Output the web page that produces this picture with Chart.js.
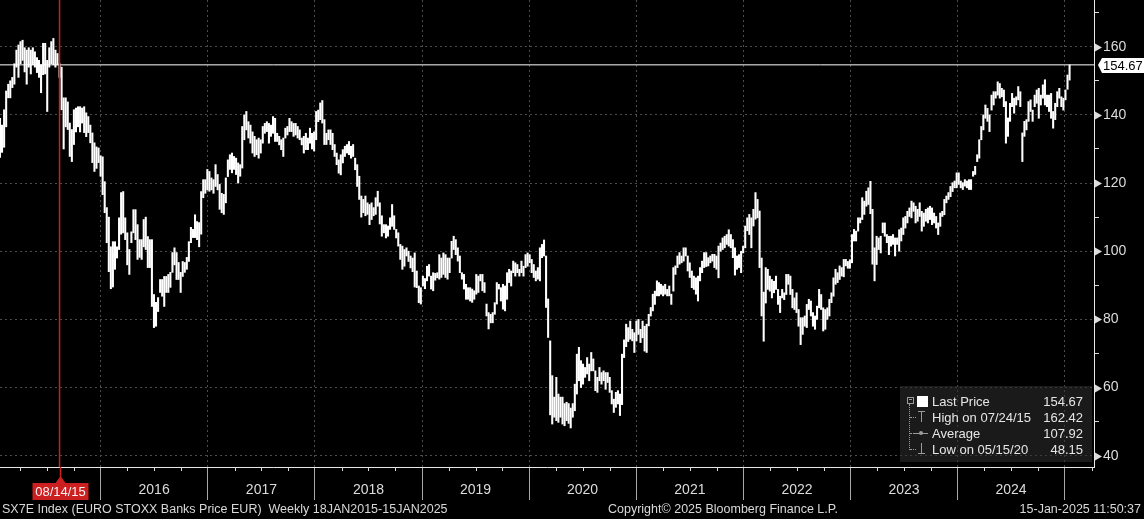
<!DOCTYPE html>
<html>
<head>
<meta charset="utf-8">
<script src="https://cdn.jsdelivr.net/npm/chart.js@4.4.1/dist/chart.umd.min.js"></script>
<style>
  html, body { margin: 0; padding: 0; background: #000; }
  #wrap { position: relative; width: 1144px; height: 519px; overflow: hidden; background: #000; }
  #wrap canvas { position: absolute; left: 0; top: 0; }
  .foot { position: absolute; top: 502px; font: 12.5px "Liberation Sans", Arial, sans-serif; color: #d8d8d8; white-space: pre; }
  #legend { position: absolute; left: 900px; top: 386px; width: 192px; height: 76px; background: rgba(48, 48, 48, 0.55);
            font: 13px "Liberation Sans", Arial, sans-serif; color: #e6e6e6; }
  #legend .row { position: absolute; left: 32px; right: 9px; height: 16px; line-height: 16px; }
  #legend .row span { position: absolute; top: 0; }
  #legend .val { right: 0; }
  #legend .ico { position: absolute; }
</style>
</head>
<body>
<div id="wrap">
  <canvas id="chart" width="1144" height="519"></canvas>
  <div id="legend"></div>
  <div class="foot" id="foot-left" style="left:2px"></div>
  <div class="foot" id="foot-mid" style="left:608px"></div>
  <div class="foot" id="foot-right" style="right:3px"></div>
</div>
<script>
// weekly bars as [low, high], one array per year band on the axis
const bars2015 = [[127.5,139],[129,137],[130.5,141.5],[136.5,147],[145,149],[145,150],[148,151],[149,155],[154,159],[151,160.5],
  [155,161.5],[156,161.9],[152.6,159.7],[149,159],[154,159.7],[152,159],[154.7,159.7],[154,158.5],[152.4,156.8],[151,156],
  [146.5,154.7],[151.8,161],[152,161],[141,156],[154,159.7],[155,161.5],[154.7,162.42],[154,159],[154.7,158],[151,155],
  [141.5,154],[130,145],[136.5,145],[135.7,143.8],[127.8,137.6],[126.3,135.7],[131.3,141.5],[135,142],[136.5,142.4],[135,142.4],
  [137.6,142],[134.8,142.4],[133.6,140.6],[134.8,139.5],[131.8,137],[126,134.7],[123.4,131.8],[124.3,130.6]];
const bars2016 = [[126,130.3],[122,128],[116.6,127.7],[111.3,120.4],[102.5,112.8],[94,110],[89,101.3],[89.5,102.8],[94.7,102.8],[98,101.3],
  [100.5,109.8],[105,117.2],[105.4,117.5],[103.4,109.8],[96,105.4],[93.2,100.5],[102.5,105.7],[105.4,112.2],[103.4,112.2],[97.6,107.8],
  [98.2,103.4],[97.6,103.4],[101.3,109.3],[100.5,110],[95.2,104.3],[95.2,103.4],[83.8,103.4],[77.6,87.3],[78,85],[82.3,86.4],
  [87.9,91.7],[86.8,91.7],[83.8,92.6],[87.9,92.6],[87.9,93.2],[89.4,93.8],[93.8,99.6],[96,101],[91.7,99.6],[91.7,96.7],
  [87.9,93.8],[92.6,97],[93.8,96.7],[94.7,98.2],[97,102.8],[102.5,107],[104,106.4],[104,110.7],[103.4,108.7],[101.3,108.4],
  [105,117.5],[115.7,121]];
const bars2017 = [[117,121],[118,124],[117.6,123.4],[118,121.5],[117,121],[119,125.4],[118,122.5],[112.3,119.6],[111.3,117],[110.8,116.7],
  [114.2,121.5],[121.9,126.8],[124,128.3],[123,128.8],[124,127.8],[122.5,127.3],[120,125.9],[122,125.4],[124.4,136.6],[132.7,140],
  [135.6,141],[133.2,138],[131.7,137],[128.8,135],[127.8,133.7],[128.3,132.7],[127.3,133.2],[128.8,132.7],[131.7,136.6],[134.6,137.5],
  [135.1,138],[131.7,137.5],[133.7,137],[134.6,139.5],[132.2,139],[132.2,134.6],[131.2,133.7],[129.8,132.7],[127.8,133.2],[133.2,136.1],
  [134.1,136.6],[135.1,139],[135.1,138],[133.7,137.5],[134.1,137.5],[133.2,136.6],[132.7,135.6],[131.2,133.2],[128.8,133.7],[129.8,134.6],
  [129.8,133.2],[131.7,136.1]];
const bars2018 = [[130,134.6],[129.4,135],[132.7,141],[138,141.4],[138.6,143.5],[137.6,144.2],[131.3,138.6],[131.3,134.6],[132.7,135.6],[131.3,135.6],
  [129.8,134.6],[127.8,131.3],[125.4,128.8],[122.9,126.8],[122.4,128.3],[125.9,129.8],[127.8,130.8],[128.8,131.3],[128.3,132.2],[127.3,130.8],
  [127.8,131.3],[123.9,127.3],[119,125.4],[115.2,122],[110,116.2],[111.3,115.2],[110.4,116.2],[110.8,114.2],[107.8,113.7],[109.3,114.2],
  [110.4,112.8],[110.8,115.7],[113.2,117.6],[108,114.2],[104.4,110.4],[105.4,107.8],[103.9,107.8],[104.4,107.4],[106.4,109.8],[107.3,113.7],
  [106.4,110.4],[103.9,106.4],[101.5,105.4],[97.6,102],[94.7,101.5],[95.6,100.5],[98.6,101],[97,100],[95.1,98.6],[94,98],
  [89.5,99.5],[89.3,94.2],[84.9,89.8]];
const bars2019 = [[84.5,89.3],[89.8,92.7],[89,92],[91.3,95.6],[92.7,96.1],[88.9,92.7],[88.4,93.7],[91.5,93.5],[92.2,93.7],[91.8,99],
  [92.3,98],[93.2,99.5],[92.3,99],[91.8,98],[93.7,98],[98,102.9],[100.5,104.4],[99,103.4],[97.1,101],[93.7,98.6],
  [91.8,93.7],[88.9,93.2],[85.9,90.3],[85.9,89.3],[85.4,89.3],[85,88.9],[85.9,88.4],[87.4,93.2],[87.9,92.7],[91.3,93.2],
  [88.4,93.2],[87.9,90.8],[81,84.5],[77.2,82],[79,81.5],[79,82],[81.5,84.9],[84.5,90.8],[88.9,90.3],[85.4,89.3],
  [83,90.3],[82.5,89.8],[85.9,93.7],[90.8,94.7],[89.8,94.2],[93.7,97.1],[92.7,96.6],[93.7,96.1],[92.7,94.7],[93.7,97.1],
  [92.7,95.6],[95.2,99]];
const bars2020 = [[95.6,99.5],[96.6,99],[93.7,97.6],[92.3,96.1],[91.3,94.2],[91.8,95.2],[91.3,101],[98.1,102],[98.6,103.3],[83.5,98.6],
  [74.7,86],[52,73.7],[49.3,63.5],[51.3,57.2],[50.3,63],[49.8,58.1],[51.3,57.2],[49.3,57.2],[48.8,55.3],[50.3,55.7],
  [49.5,55.3],[48.15,54],[51.3,55.3],[53.2,61],[58.1,69.8],[62,71.8],[60,67.9],[61,66.9],[63,65.9],[64,68.8],
  [62,66.9],[64.9,70.3],[64.9,68.4],[59.1,64.9],[58.6,63],[62,65.9],[61,64.4],[62,64.9],[59.5,64.4],[61.5,64.4],
  [58.6,63],[55.2,59.1],[52.7,56.6],[54.2,58.6],[55.2,59.1],[51.8,58.1],[55,69.8],[68.8,74],[72,78.6],[73.5,77.6],
  [74.2,79.5],[73.7,77.1]];
const bars2021 = [[70.3,76.1],[73.7,79.5],[75.6,80],[73.2,77.1],[74.6,79.5],[70.7,78],[70.3,78.6],[78.1,81.5],[81,83.5],[82.5,87.4],
  [84.4,88.3],[86.9,91.3],[86.9,90.8],[87.4,90.3],[86.9,89.8],[87.4,90.3],[86.9,88.8],[86.9,89.8],[84.4,87.4],[88.3,95.2],
  [93.2,95.7],[95.2,98.6],[96.2,99.6],[96.6,98.6],[97.1,101],[98.6,101],[94.2,98.6],[92.3,96.6],[89.3,94.2],[88.8,92.7],
  [87.4,92.2],[85.4,92.7],[91.3,95.2],[93.7,97.1],[95.2,99.6],[95.5,99.6],[95.7,98.1],[96.6,98.6],[97.1,99.1],[95.2,99.1],
  [94.7,98.6],[92.2,101.5],[100,102.4],[100.5,103.9],[101,104.4],[102,104.9],[101.5,106.3],[101,104.9],[98.1,103.4],[93,101],
  [94.7,98.6],[95.2,99],[93.7,100]];
const bars2022 = [[99.5,101.5],[101,107.4],[106,109.8],[104.9,110.8],[101,109.8],[107.4,112.3],[109.4,117.2],[109.8,115.2],[95.2,111.8],[81,98],
  [73.6,88],[84.8,95.2],[88.8,94.7],[88.3,92.7],[86.3,91.7],[87.8,91.2],[88.8,92.7],[84.4,88.8],[82,86.8],[86.3,88.8],
  [85.8,87.8],[87.3,93.2],[90.3,93.2],[87.3,92.7],[83.4,88.8],[82.9,86.3],[82,87.8],[78,82.9],[72.6,80.5],[75.6,80.5],
  [78,81],[77.6,84.4],[82.9,85.9],[81,85.4],[78,82],[77.1,81],[80,83.9],[83.4,88.8],[82.9,87.3],[76.6,83.4],
  [77.1,82.9],[80,83.4],[81,85.9],[84.9,87.8],[86.8,92.2],[90.3,94.7],[90.8,93.7],[91.7,95.7],[92.7,95.2],[92.5,97.6],
  [95.7,97.6],[95,97]];
const bars2023 = [[95,97.5],[96.6,104.9],[103,106.4],[103,105.9],[105.9,109.8],[108.3,109.8],[109.3,115.7],[110.8,114.7],[113.2,117.6],[113.7,118.6],
  [111,120.5],[96.2,112.3],[91.3,101],[96.1,104.4],[100.5,103.9],[99.5,104.4],[105.4,108.3],[104.4,108.3],[102.5,104.9],[99,104.4],
  [101.5,104.4],[102,104.9],[98.6,103.9],[102,103.9],[100,106.3],[103,106.8],[104.9,109.8],[106.8,110.2],[108.3,111.7],[110.2,112.7],
  [109.8,114.7],[111.7,114.2],[108.3,113.2],[108.8,112.3],[110.2,114.2],[105.9,111.7],[107.3,111.2],[108.8,112.3],[108.3,112.7],[109.3,113.2],
  [107.8,112.7],[108.3,111.2],[106.8,110.2],[104.9,108.3],[107.3,111.2],[110.2,111.7],[110.7,115.2],[114.2,116.2],[115.2,117.2],[116,119],
  [117.5,120.1],[118.6,120.6]];
const bars2024 = [[118.6,123],[119.6,123],[118.6,120.6],[118.1,120.1],[119.1,121],[118.6,120.6],[118.1,121],[118.1,121],[122,123.4],[122.5,124.9],
  [126.3,128.3],[127.3,132.7],[132.7,136.6],[135.6,140],[139,142.9],[138.1,141.9],[135.1,140],[141.4,145.8],[142.9,146.8],[144.9,146.8],
  [145.8,149.7],[144.9,149.2],[145.3,147.8],[142.4,147.3],[131.7,143.9],[133.7,139.1],[138.1,143.4],[142.4,146.3],[140.5,144.9],[142.9,145.3],
  [144.4,148.3],[142.4,146.8],[126.3,134.7],[133.7,138.1],[135.6,138.6],[138.1,143.9],[141,144.4],[138.1,141.4],[142.4,145.8],[143.4,147.3],
  [139,147.8],[142.9,145.8],[144.9,148.8],[142.9,150.3],[142.4,145.8],[141,145.8],[139,146.3],[136.1,141],[138.6,143.4],[142.4,146.8],
  [144.9,147.8],[142.4,145.3]];
const bars2025 = [[141.4,144.9],[144.4,147.3],[147.5,151.7],[150.2,154.67]];

// axis and summary values
const yearLabels = ['2016', '2017', '2018', '2019', '2020', '2021', '2022', '2023', '2024', ''];
const lastPrice = 154.67;
const highValue = 162.42, highDate = '07/24/15';
const averageValue = 107.92;
const lowValue = 48.15, lowDate = '05/15/20';
const cursorDate = '08/14/15';
const cursorWeek = 29;

const seriesName = 'SX7E Index (EURO STOXX Banks Price EUR)  Weekly 18JAN2015-15JAN2025';
const copyrightText = 'Copyright\u00a9 2025 Bloomberg Finance L.P.';
const stampText = '15-Jan-2025 11:50:37';

const FONT = '"Liberation Sans", Arial, sans-serif';
const GRID = '#4c4c4c';
const TEXT = '#dcdcdc';
const RED = '#cc1f1f';

// week index 0 is the bar of 23 Jan 2015
const firstBar = Date.UTC(2015, 0, 23);
function weekOf(y, m, d) {
  return (Date.UTC(y, m, d) - firstBar) / (7 * 864e5);
}
const yearBounds = [2016, 2017, 2018, 2019, 2020, 2021, 2022, 2023, 2024, 2025].map(y => weekOf(y, 0, 1));
const quarterBounds = [2015, 2026].map(y => weekOf(y, 0, 1));

const weekly = [].concat(bars2015, bars2016, bars2017, bars2018, bars2019, bars2020,
  bars2021, bars2022, bars2023, bars2024, bars2025);
const barPoints = weekly.map((r, i) => ({ x: i, y: r }));

const X_MIN = 0, X_MAX = 532.9;
const Y_MIN = 36.7, Y_MAX = 173.7;

// extra drawing: tick arrows, quarter ticks, price tag, date cursor label
const decorations = {
  id: 'decorations',
  afterDraw(chart) {
    const ctx = chart.ctx;
    const xs = chart.scales.x, ys = chart.scales.y;
    const area = chart.chartArea;
    ctx.save();

    // arrows on the labelled price ticks
    ctx.fillStyle = TEXT;
    ys.ticks.forEach(t => {
      if (t.value % 20 !== 0) return;
      const py = Math.round(ys.getPixelForValue(t.value)) + 0.5;
      ctx.beginPath();
      ctx.moveTo(area.right + 1, py - 4);
      ctx.lineTo(area.right + 8, py);
      ctx.lineTo(area.right + 1, py + 4);
      ctx.closePath();
      ctx.fill();
    });

    // quarter ticks under the plot
    const bounds = [quarterBounds[0]].concat(yearBounds, [quarterBounds[1]]);
    ctx.strokeStyle = TEXT;
    ctx.lineWidth = 1;
    for (let b = 0; b < bounds.length - 1; b++) {
      for (let q = 1; q < 4; q++) {
        const v = bounds[b] + (bounds[b + 1] - bounds[b]) * q / 4;
        const px = Math.round(xs.getPixelForValue(v)) + 0.5;
        if (px < area.left || px > area.right) continue;
        ctx.beginPath();
        ctx.moveTo(px, area.bottom);
        ctx.lineTo(px, area.bottom + 4);
        ctx.stroke();
      }
    }

    // last price tag
    const ly = Math.round(ys.getPixelForValue(lastPrice));
    ctx.fillStyle = '#fff';
    ctx.beginPath();
    ctx.moveTo(area.right + 4, ly);
    ctx.lineTo(area.right + 8, ly - 7);
    ctx.lineTo(chart.width, ly - 7);
    ctx.lineTo(chart.width, ly + 8);
    ctx.lineTo(area.right + 8, ly + 8);
    ctx.closePath();
    ctx.fill();
    ctx.fillStyle = '#000';
    ctx.font = '13px ' + FONT;
    ctx.textAlign = 'left';
    ctx.textBaseline = 'middle';
    ctx.fillText(lastPrice.toFixed(2), area.right + 9, ly + 1);

    // date cursor below the axis
    const cx = Math.round(xs.getPixelForValue(cursorWeek)) + 0.5;
    ctx.strokeStyle = RED;
    ctx.lineWidth = 1.5;
    ctx.beginPath();
    ctx.moveTo(cx, area.bottom);
    ctx.lineTo(cx, area.bottom + 10);
    ctx.stroke();
    ctx.fillStyle = RED;
    ctx.beginPath();
    ctx.moveTo(cx, area.bottom + 9);
    ctx.lineTo(cx - 5, area.bottom + 16);
    ctx.lineTo(cx + 5, area.bottom + 16);
    ctx.closePath();
    ctx.fill();
    ctx.fillRect(cx - 28, area.bottom + 16, 56, 17);
    ctx.fillStyle = '#f2f2f2';
    ctx.font = '13px ' + FONT;
    ctx.textAlign = 'center';
    ctx.fillText(cursorDate, cx, area.bottom + 25);

    ctx.restore();
  }
};

const chart = new Chart(document.getElementById('chart'), {
  type: 'bar',
  data: {
    datasets: [
      {
        type: 'line',
        data: [{ x: cursorWeek, y: Y_MIN }, { x: cursorWeek, y: Y_MAX }],
        borderColor: RED,
        borderWidth: 1.5,
        pointRadius: 0,
        order: 1
      },
      {
        type: 'line',
        data: [{ x: X_MIN, y: lastPrice }, { x: X_MAX, y: lastPrice }],
        borderColor: '#ffffff',
        borderWidth: 1,
        pointRadius: 0,
        order: 2
      },
      {
        type: 'bar',
        data: barPoints,
        backgroundColor: '#ffffff',
        borderWidth: 0,
        barThickness: 1.4,
        order: 3
      }
    ]
  },
  options: {
    responsive: false,
    animation: false,
    events: [],
    layout: { padding: { left: 0, right: 0, top: 0, bottom: 19 } },
    plugins: { legend: { display: false }, tooltip: { enabled: false } },
    scales: {
      x: {
        type: 'linear',
        min: X_MIN,
        max: X_MAX,
        offset: false,
        grid: {
          offset: false,
          color: GRID,
          tickColor: '#a8a8a8',
          tickLength: 33
        },
        border: { display: true, color: '#e8e8e8', dash: [2, 3] },
        afterBuildTicks: s => { s.ticks = yearBounds.map(v => ({ value: v })); },
        afterFit: s => { s.height = 33; s.paddingLeft = 0; s.paddingRight = 0; },
        ticks: {
          autoSkip: false,
          maxRotation: 0,
          padding: -18,
          labelOffset: 53.5,
          color: TEXT,
          font: { family: FONT, size: 14 },
          callback: (v, i) => yearLabels[i]
        }
      },
      y: {
        position: 'right',
        min: Y_MIN,
        max: Y_MAX,
        grid: {
          color: c => (c.tick && c.tick.value % 20 === 0) ? GRID : 'transparent',
          tickColor: TEXT,
          tickLength: 5
        },
        border: { display: true, color: '#e8e8e8', dash: [2, 3] },
        afterFit: s => { s.width = 50; s.paddingTop = 0; s.paddingBottom = 0; },
        ticks: {
          stepSize: 10,
          includeBounds: false,
          padding: 4,
          color: TEXT,
          font: { family: FONT, size: 14 },
          callback: v => (v % 20 === 0 ? String(v) : '')
        }
      }
    }
  },
  plugins: [decorations]
});

// legend box with its small tree icons
const legend = document.getElementById('legend');
const rows = [
  ['Last Price', lastPrice.toFixed(2)],
  ['High on ' + highDate, highValue.toFixed(2)],
  ['Average', averageValue.toFixed(2)],
  ['Low on ' + lowDate, lowValue.toFixed(2)]
];
rows.forEach((r, k) => {
  const row = document.createElement('div');
  row.className = 'row';
  row.style.top = (8 + k * 16) + 'px';
  row.innerHTML = '<span class="lab" style="left:0">' + r[0] + '</span><span class="val">' + r[1] + '</span>';
  legend.appendChild(row);
});
function icon(css) {
  const d = document.createElement('div');
  d.className = 'ico';
  d.style.cssText += css;
  legend.appendChild(d);
}
const ICON = '#9a9a9a';
icon('left:7px;top:11px;width:5px;height:5px;border:1px solid ' + ICON + ';');
icon('left:9px;top:13px;width:3px;height:1px;background:' + ICON + ';');
icon('left:9px;top:18px;width:0;height:46px;border-left:1px dotted ' + ICON + ';');
icon('left:17px;top:10px;width:11px;height:11px;background:#fff;');
[31, 47, 63].forEach(t => icon('left:10px;top:' + t + 'px;width:6px;height:0;border-top:1px dotted ' + ICON + ';'));
icon('left:18px;top:25px;width:7px;height:1px;background:' + ICON + ';');
icon('left:21px;top:25px;width:1px;height:11px;background:' + ICON + ';');
icon('left:14px;top:47px;width:14px;height:1px;background:' + ICON + ';');
icon('left:19px;top:45px;width:4px;height:4px;border-radius:50%;background:' + ICON + ';');
icon('left:21px;top:57px;width:1px;height:11px;background:' + ICON + ';');
icon('left:18px;top:67px;width:7px;height:1px;background:' + ICON + ';');

document.getElementById('foot-left').textContent = seriesName;
document.getElementById('foot-mid').textContent = copyrightText;
document.getElementById('foot-right').textContent = stampText;
</script>
</body>
</html>
